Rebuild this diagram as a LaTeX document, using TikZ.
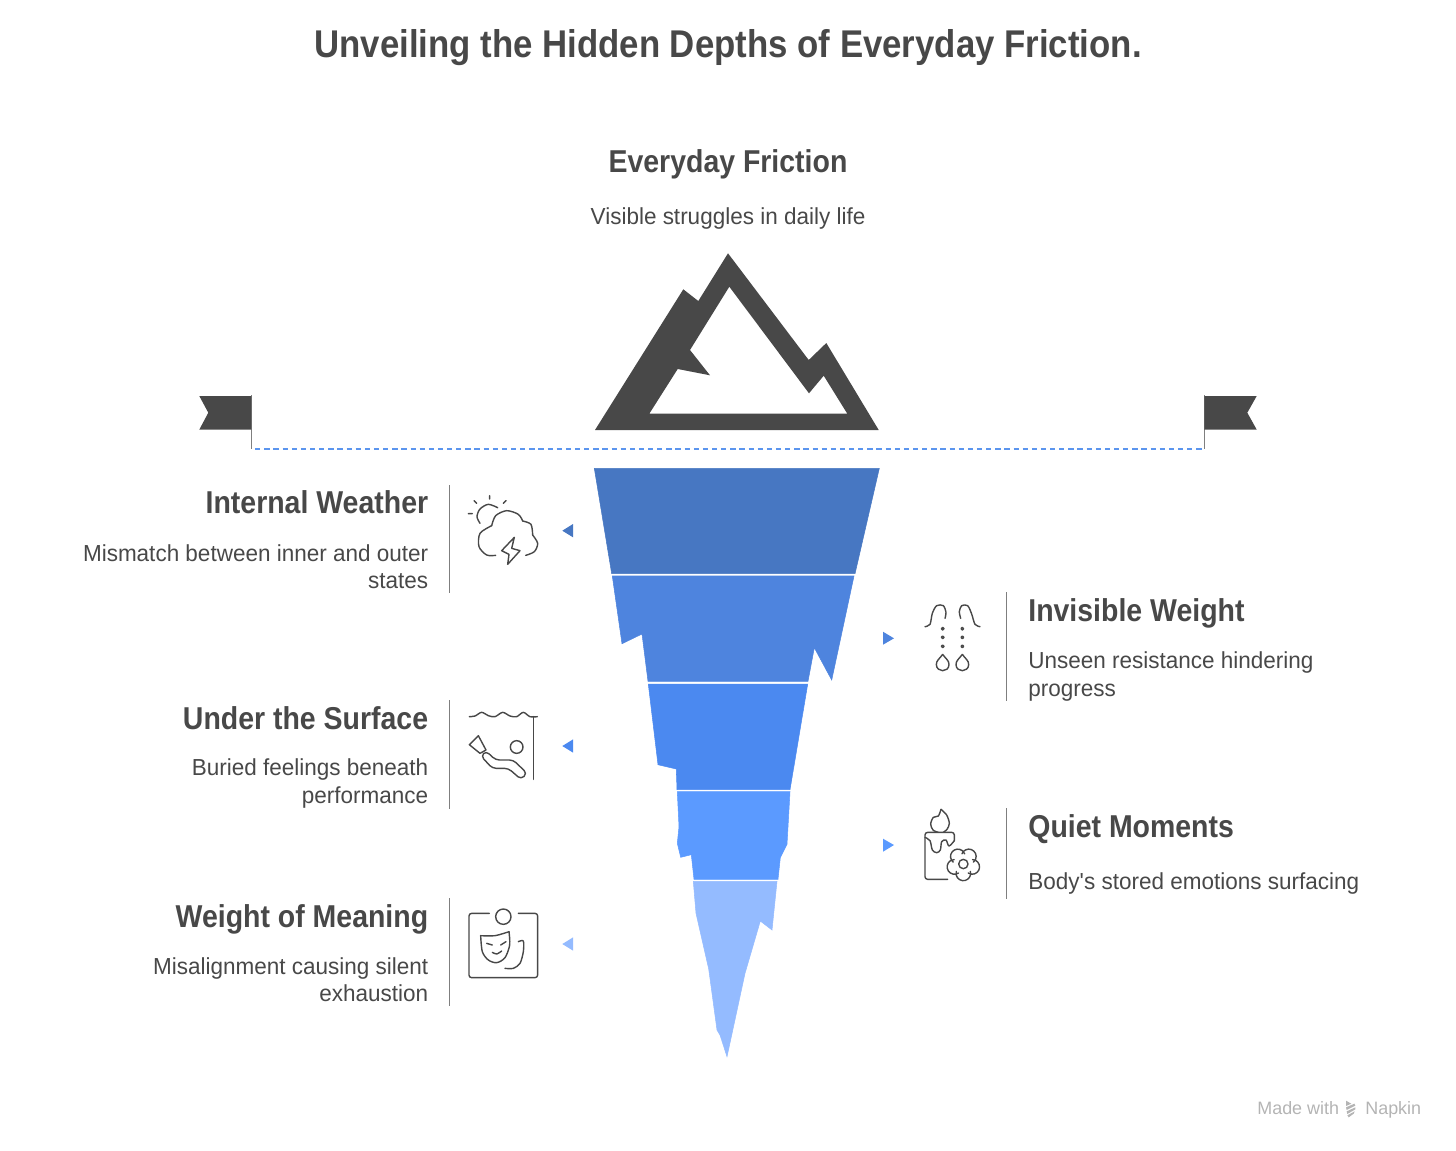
\documentclass[tikz,border=0pt]{standalone}
\usepackage{fontspec}
\setmainfont{Liberation Sans}
\newfontfamily\headfont{Liberation Sans}[FakeStretch=0.9]
\newfontfamily\descfont{Liberation Sans}[FakeStretch=0.97]
\usetikzlibrary{positioning}
\definecolor{inktext}{HTML}{484848}
\definecolor{layerone}{HTML}{4777C2}
\definecolor{layertwo}{HTML}{4E84DE}
\definecolor{layerthree}{HTML}{4B89F0}
\definecolor{layerfour}{HTML}{5B9AFF}
\definecolor{layerfive}{HTML}{94BBFF}
\definecolor{waterline}{HTML}{5B95EE}
\definecolor{markgray}{HTML}{B4B4B4}
\begin{document}
\begin{tikzpicture}[x=0.02cm,y=-0.02cm,
    titletext/.style={inner sep=0pt,anchor=base,text=inktext,font=\headfont\fontsize{22}{26}\bfseries\selectfont},
    headtext/.style={inner sep=0pt,text=inktext,font=\headfont\fontsize{18}{21}\bfseries\selectfont},
    desctext/.style={inner sep=0pt,text=inktext,font=\descfont\fontsize{13.2}{15.4}\selectfont},
    headleft/.style={headtext,anchor=base east},
    headright/.style={headtext,anchor=base west},
    descleft/.style={desctext,anchor=east,align=right},
    descright/.style={desctext,anchor=west,align=left},
    divider/.style={draw=inktext!70,line width=0.5pt},
    iconline/.style={draw=inktext,line width=0.8pt,line cap=round,line join=round},
    zoomed/.style={x=0.006667cm,y=-0.006667cm}]
    \useasboundingbox (0,0) rectangle (1456,1150);

    \node[titletext] (title) at (728,57) {Unveiling the Hidden Depths of Everyday Friction.};
    \node[headtext,anchor=base] (friction) at (728,172) {Everyday Friction};
    \node[desctext,anchor=base] (visible) at (728,224) {Visible struggles in daily life};

    \fill[inktext,even odd rule] (595,430) -- (683.3,289.3) -- (698.3,301) -- (728,253.3) -- (808.7,360) -- (826.3,343) -- (878.7,430) -- cycle
      (649.3,413.7) -- (677.7,369) -- (710,375.3) -- (690,350) -- (729.3,286.7) -- (809,393.3) -- (823.7,375.7) -- (847.3,413.7) -- cycle;

    \coordinate (waterleft) at (251.7,449);
    \coordinate (waterright) at (1204,449);
    \draw[inktext!70,line width=0.5pt] (251.7,395) -- (waterleft);
    \draw[inktext!70,line width=0.5pt] (1204,395) -- (waterright);
    \fill[inktext] (199.3,396) -- (251.3,396) -- (251.3,429.6) -- (199.3,429.6) -- (208.3,412.7) -- cycle;
    \fill[inktext] (1256.7,396) -- (1204.4,396) -- (1204.4,429.6) -- (1256.7,429.6) -- (1247.3,412.7) -- cycle;
    \draw[waterline,line width=0.6pt,dash pattern=on 3pt off 2.2pt,shorten <=2pt] (waterleft) -- (waterright);

    \filldraw[layerone,line width=0.3pt] (594.3,468.3) -- (879.3,468.3) -- (855,573.7) -- (611.7,573.7) -- cycle;
    \filldraw[layertwo,line width=0.3pt] (612.3,576) -- (854,576) -- (831.7,680) -- (814.3,647.7) -- (808,681.3) -- (648,681.3) -- (642,634) -- (622,643.7) -- cycle;
    \filldraw[layerthree,line width=0.3pt] (648.3,684) -- (807.7,684) -- (790,789.7) -- (677,789.7) -- (676.3,769) -- (658,764.7) -- cycle;
    \filldraw[layerfour,line width=0.3pt] (677.3,791.7) -- (790,791.7) -- (787,844.3) -- (780.3,857.7) -- (778,879.3) -- (694,879.3) -- (691.3,854.7) -- (680.7,857.3) -- (677.3,843.3) -- (679,826.7) -- cycle;
    \filldraw[layerfive,line width=0.3pt] (693.3,881.3) -- (777,881.3) -- (772,930) -- (760.3,921) -- (745,973.3) -- (727,1056.7) -- (720,1035) -- (717,1030) -- (708.7,969) -- (696,913.3) -- cycle;

    \fill[layerone] (562.3,530.7) -- (573,524) -- (573,537.3) -- cycle;
    \fill[layerthree] (562.3,746) -- (573,739.4) -- (573,752.6) -- cycle;
    \fill[layerfive] (562.3,944) -- (573,937.4) -- (573,950.6) -- cycle;
    \fill[layertwo] (883,631.7) -- (894,638.3) -- (883,644.7) -- cycle;
    \fill[layerfour] (883,838.7) -- (894,845) -- (883,851.7) -- cycle;

    \node[headleft] (weatherhead) at (428.5,513) {Internal Weather};
    \node[descleft] (weatherdesc) at (428.5,566.5) {Mismatch between inner and outer\\states};
    \node[headleft] (surfacehead) at (428.5,729) {Under the Surface};
    \node[descleft] (surfacedesc) at (428.5,783.5) {Buried feelings beneath\\performance};
    \node[headleft] (meaninghead) at (428.5,927) {Weight of Meaning};
    \node[descleft] (meaningdesc) at (428.5,979.5) {Misalignment causing silent\\exhaustion};
    \node[headright] (invisiblehead) at (1028,621) {Invisible Weight};
    \node[descright] (invisibledesc) at (1028,676.5) {Unseen resistance hindering\\progress};
    \node[headright] (quiethead) at (1028,837) {Quiet Moments};
    \node[desctext,anchor=base west] (quietdesc) at (1028,889) {Body\textquotesingle s stored emotions surfacing};

    \draw[divider] (449,485) -- (449,593);
    \draw[divider] (449,700) -- (449,809);
    \draw[divider] (449,898) -- (449,1006);
    \draw[divider] (1006.5,592) -- (1006.5,701);
    \draw[divider] (1006.5,808) -- (1006.5,899);

    \begin{scope}[shift={(455,485)},zoomed,iconline]
      \draw plot[smooth] coordinates {(128,68) (100,58) (75,72) (66,95) (75,115)};
      \draw (57,47) -- (65,55) (104,32) -- (104,42) (153,47) -- (145,55) (40,86) -- (52,86);
      \draw plot[smooth] coordinates {(122,211) (95,210) (72,185) (75,145) (110,122)};
      \draw plot[smooth] coordinates {(110,122) (122,92) (155,77) (190,88) (203,108)};
      \draw plot[smooth] coordinates {(203,108) (228,118) (233,150)};
      \draw plot[smooth] coordinates {(233,150) (248,175) (238,200) (212,211)};
      \draw (178,157) -- (140,197) -- (162,208) -- (158,238) -- (195,197) -- (170,190) -- cycle;
    \end{scope}

    \begin{scope}[shift={(875,590)},zoomed,iconline]
      \draw plot[smooth] coordinates {(150,110) (165,103) (172,70) (185,47) (205,47) (213,68) (210,85)};
      \draw plot[smooth] coordinates {(315,110) (300,103) (290,72) (278,47) (260,47) (253,65) (257,85)};
      \foreach \dotx in {203,262}
        \foreach \doty in {116,142,169}
          \draw (\dotx,\doty) circle (4);
      \foreach \dropx in {203,262}
        \draw (\dropx,193) .. controls (\dropx-8,205) and (\dropx-20,212) .. (\dropx-19,224) .. controls (\dropx-18,248) and (\dropx+18,248) .. (\dropx+19,224) .. controls (\dropx+20,212) and (\dropx+8,205) .. (\dropx,193);
    \end{scope}

    \begin{scope}[shift={(455,700)},zoomed,iconline]
      \draw plot[smooth] coordinates {(43,50) (60,48) (80,37) (100,47) (120,50) (143,37) (165,48) (185,50) (205,37) (225,50) (247,50)};
      \draw (235,50) -- (235,238);
      \draw (185,141) circle (19);
      \draw (70,107) -- (43,134) -- (75,160) -- (93,150) -- cycle;
      \draw[rounded corners=2.2pt] (93,153) -- (122,180) -- (175,180) -- (216,220) -- (198,238) -- (160,205) -- (112,205) -- (78,168) -- cycle;
    \end{scope}

    \begin{scope}[shift={(875,800)},zoomed,iconline]
      \draw plot[smooth] coordinates {(198,28) (190,48) (175,52) (167,72) (174,90) (190,97)};
      \draw plot[smooth] coordinates {(198,28) (215,45) (223,70) (216,88) (205,97)};
      \draw[rounded corners=1.5pt] (218,238) -- (150,238) -- (150,97) -- (238,97) -- (238,122);
      \draw plot[smooth] coordinates {(150,112) (165,122) (172,150) (185,158) (196,150) (200,125) (213,120) (222,138) (238,122)};
      \draw (265,192) circle (14);
      \foreach \petal in {90,162,234,306,18}
        \draw (265,192) ++(\petal:28) ++(\petal-105:22) arc[start angle=\petal-105,end angle=\petal+105,radius=22];
    \end{scope}

    \begin{scope}[shift={(455,895)},zoomed,iconline]
      \draw[rounded corners=1.5pt] (103,55) -- (42,55) -- (42,248) -- (248,248) -- (248,55) -- (190,55);
      \draw (145,65) circle (23);
      \draw plot[smooth] coordinates {(77,122) (120,122) (162,110)};
      \draw plot[smooth] coordinates {(162,110) (164,150) (150,188) (125,203) (100,195) (82,170) (77,122)};
      \draw (95,145) -- (112,150) (137,150) -- (153,140);
      \draw plot[smooth] coordinates {(112,172) (125,177) (140,168)};
      \draw plot[smooth] coordinates {(190,140) (205,138) (205,170) (195,205) (175,220) (150,220)};
    \end{scope}

    \node[anchor=base west,inner sep=0pt,text=markgray,font=\fontsize{10.2}{12}\selectfont] (madewith) at (1257,1114) {Made with};
    \node[anchor=base west,inner sep=0pt,text=markgray,font=\fontsize{10.2}{12}\selectfont] (napkin) at (1365,1114) {Napkin};
    \begin{scope}[shift={(1240,1090)},zoomed]
      \fill[markgray] (318,32) -- (334,41) -- (318,48) -- cycle;
      \fill[markgray] (318,52) -- (343,41) -- (346,47) -- (320,60) -- cycle;
      \fill[markgray] (320,64) -- (346,52) -- (346,58) -- (322,72) -- cycle;
      \fill[markgray] (322,76) -- (344,64) -- (341,71) -- (326,82) -- cycle;
    \end{scope}
  \end{tikzpicture}
\end{document}
